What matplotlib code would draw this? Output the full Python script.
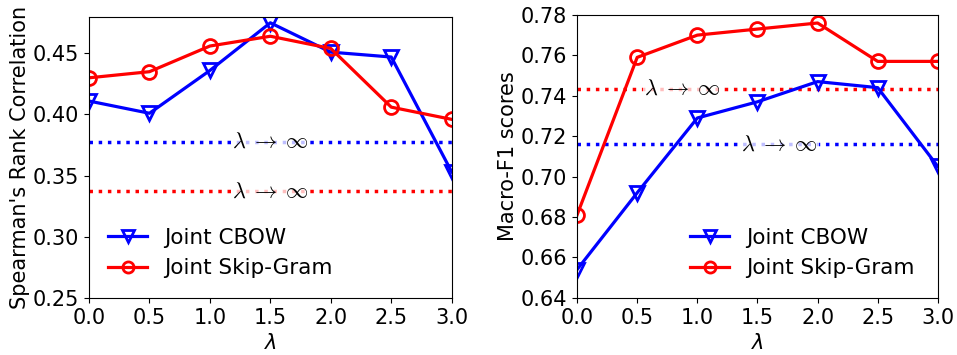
import numpy as np
import matplotlib.pyplot as plt

# lambda values on x axis
lam = [0.0, 0.5, 1.0, 1.5, 2.0, 2.5, 3.0]

# left: Spearman's rank correlation
spear_cbow = [0.411, 0.401, 0.436, 0.475, 0.451, 0.447, 0.353]
spear_sg = [0.430, 0.435, 0.456, 0.464, 0.454, 0.406, 0.396]
spear_inf_cbow = 0.3775
spear_inf_sg = 0.337

# right: Macro-F1
f1_cbow = [0.654, 0.692, 0.729, 0.737, 0.747, 0.744, 0.705]
f1_sg = [0.681, 0.759, 0.770, 0.773, 0.776, 0.757, 0.757]
f1_inf_cbow = 0.716
f1_inf_sg = 0.7435

plt.rcParams['font.size'] = 15

fig = plt.figure(figsize=(9.57, 3.55), dpi=100)
ax1 = fig.add_axes([0.093, 0.161, 0.379, 0.792])
ax2 = fig.add_axes([0.603, 0.161, 0.377, 0.797])


def draw(ax, cbow, sg, inf_cbow, inf_sg, ylabel, txt_pos):
    ''' draws both series, the lambda->inf baselines and labels '''
    ax.axhline(inf_cbow, color='blue', ls=':', lw=2.5)
    ax.axhline(inf_sg, color='red', ls=':', lw=2.5)
    for (x, y) in txt_pos:
        ax.text(x, y, r'$\lambda\;\rightarrow\;\infty$', ha='center',
                va='center', fontsize=16, math_fontfamily='cm',
                bbox=dict(facecolor='white', edgecolor='none', alpha=0.75, pad=1))
    ax.plot(lam, cbow, color='blue', lw=2.3, marker='v', ms=10,
            mfc='none', mew=2, label='Joint CBOW')
    ax.plot(lam, sg, color='red', lw=2.3, marker='o', ms=10,
            mfc='none', mew=2, label='Joint Skip-Gram')
    ax.set_xlim(0, 3)
    ax.set_xticks(lam)
    ax.set_xlabel(r'$\lambda$', labelpad=4)
    ax.set_ylabel(ylabel, labelpad=2)


draw(ax1, spear_cbow, spear_sg, spear_inf_cbow, spear_inf_sg,
     "Spearman's Rank Correlation",
     [(1.5, spear_inf_cbow), (1.5, spear_inf_sg)])
ax1.set_ylim(0.25, 0.48)
ax1.set_yticks([0.25, 0.30, 0.35, 0.40, 0.45])
ax1.legend(loc='lower left', bbox_to_anchor=(0.0, 0.0), frameon=False,
           fontsize=15.5, handlelength=1.8, markerscale=0.8)

draw(ax2, f1_cbow, f1_sg, f1_inf_cbow, f1_inf_sg, "Macro-F1 scores",
     [(0.88, f1_inf_sg), (1.68, f1_inf_cbow)])
ax2.set_ylim(0.64, 0.78)
ax2.set_yticks(np.arange(0.64, 0.781, 0.02))
ax2.legend(loc='lower right', bbox_to_anchor=(0.99, 0.0), frameon=False,
           fontsize=15.5, handlelength=1.8, markerscale=0.8)

plt.savefig('out.png', dpi=100)
